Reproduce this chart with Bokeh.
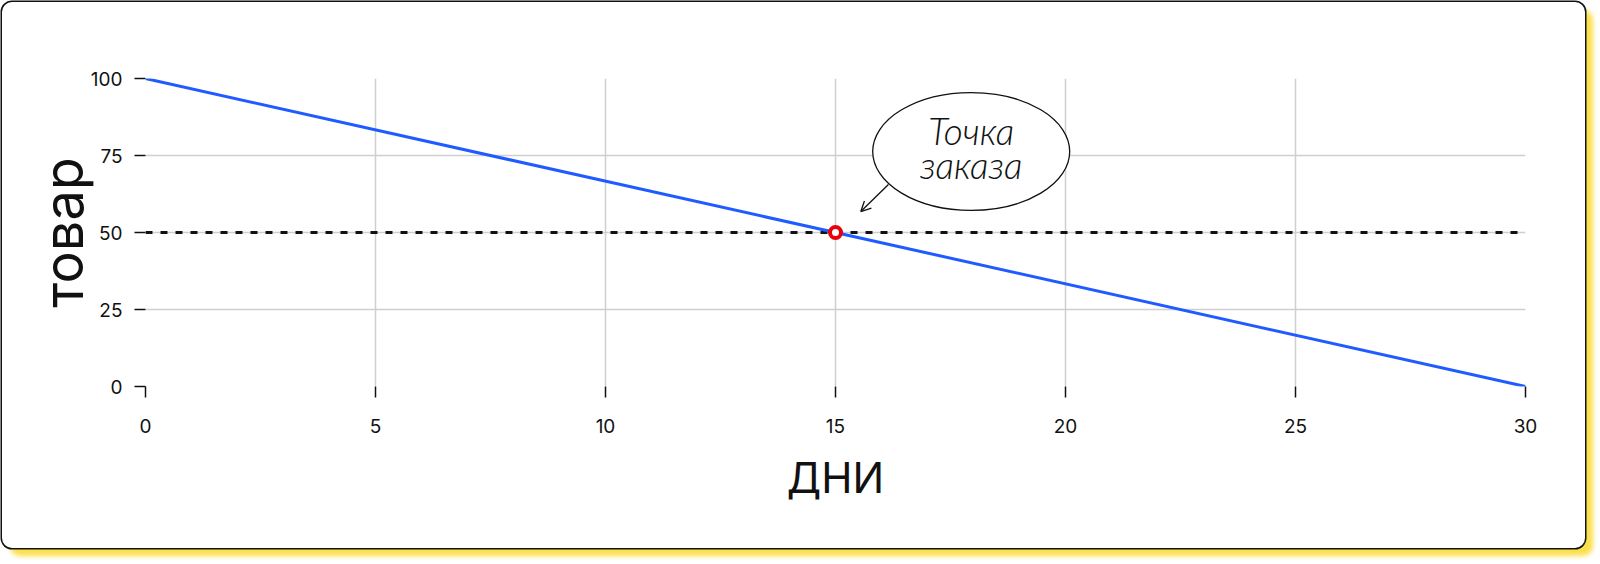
from bokeh.plotting import figure
from bokeh.models import Range1d, FixedTicker, Arrow, OpenHead
from bokeh.core.properties import value
from bokeh.embed import file_html
from bokeh.resources import INLINE

# ---- data ----
days = [0, 30]
stock = [100, 0]
reorder_level = [50, 50]
reorder_day = [15]
reorder_stock = [50]
x_ticks = [0, 5, 10, 15, 20, 25, 30]
y_ticks = [0, 25, 50, 75, 100]
note_lines = ["Точка", "заказа"]
x_label = "ДНИ"
y_label = "товар"

# annotation placement (data units)
note_x = 17.95
note_y = [83.0, 72.0]
bubble_x, bubble_y = 17.95, 76.3
arrow_start = (16.15, 65.6)
arrow_end = (15.55, 56.8)

p = figure(width=1583, height=546,
           x_range=Range1d(0, 30), y_range=Range1d(0, 100),
           output_backend="svg", toolbar_location=None,
           min_border_left=143, min_border_right=60,
           min_border_top=76, min_border_bottom=162)

p.styles = {"margin": "2px 0 0 2px", "border-radius": "10px",
            "background-color": "white",
            "box-shadow": "0 0 0 1.5px #111, 8px 8px 5px #fbe04a"}
p.border_fill_color = None
p.background_fill_color = "white"
p.outline_line_color = None

for ax in (p.xaxis[0], p.yaxis[0]):
    ax.axis_line_color = None
    ax.major_tick_in = 0
    ax.major_tick_out = 11
    ax.major_tick_line_color = "#111111"
    ax.major_tick_line_width = 1.5
    ax.minor_tick_line_color = None
    ax.major_label_text_font = "Inter"
    ax.major_label_text_font_size = "19px"
    ax.major_label_text_color = "#111111"
    ax.axis_label_text_font = "Inter"
    ax.axis_label_text_font_style = "normal"
    ax.axis_label_text_color = "#111111"

p.xaxis.ticker = FixedTicker(ticks=x_ticks)
p.yaxis.ticker = FixedTicker(ticks=y_ticks)
p.xaxis.major_label_standoff = 21
p.yaxis.major_label_standoff = 12
p.xaxis.axis_label = x_label
p.yaxis.axis_label = y_label
p.xaxis.axis_label_text_font_size = "42px"
p.yaxis.axis_label_text_font_size = "54px"
p.xaxis.axis_label_standoff = 16
p.yaxis.axis_label_standoff = -8

p.xgrid.grid_line_color = "#cfcfcf"
p.ygrid.grid_line_color = "#cfcfcf"
p.xgrid.grid_line_width = 1.5
p.ygrid.grid_line_width = 1.5

p.line(days, reorder_level, line_color="#111111", line_width=3, line_dash="7 8")
p.line(days, stock, line_color="#1f5bff", line_width=3)
p.scatter(reorder_day, reorder_stock, size=11, fill_color="white",
          line_color="#e8000b", line_width=4)

p.ellipse(x=[bubble_x], y=[bubble_y], width=[197], height=[118],
          width_units="screen", height_units="screen",
          fill_color="white", line_color="#111111", line_width=1.3)
p.text(x=[note_x, note_x], y=note_y, text=note_lines,
       text_font=value("Lato Light"), text_font_style="italic",
       text_font_size="37px", text_color="#111111",
       text_align="center", text_baseline="alphabetic")
p.add_layout(Arrow(end=OpenHead(size=10, line_width=1.3, line_color="#111111"),
                   x_start=arrow_start[0], y_start=arrow_start[1],
                   x_end=arrow_end[0], y_end=arrow_end[1],
                   line_color="#111111", line_width=1.3))

open("out.html", "w").write(file_html(p, INLINE))
